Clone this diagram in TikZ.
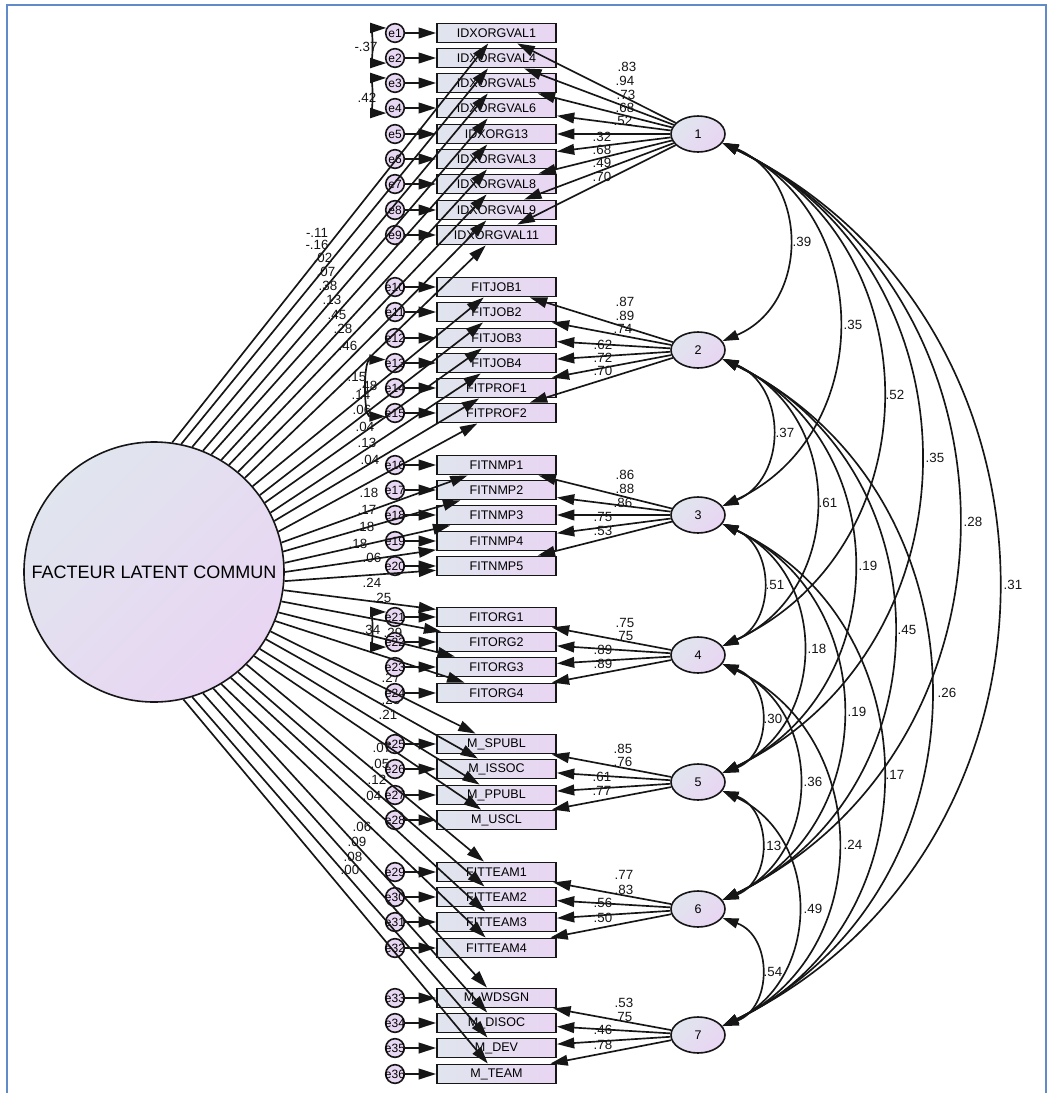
\documentclass[tikz,border=0pt]{standalone}
\usepackage{fontspec}
\setmainfont{Liberation Sans}
\usetikzlibrary{arrows.meta,shapes.geometric}
\definecolor{gA}{RGB}{224,229,238}
\definecolor{gB}{RGB}{233,213,243}
\definecolor{frameblue}{RGB}{96,138,200}
\definecolor{ink}{RGB}{22,22,22}
\begin{document}
\begin{tikzpicture}[x=0.75pt,y=-0.75pt,
  obs/.style={draw=ink, line width=1.4pt, left color=gA, right color=gB, minimum width=89.25pt, minimum height=14.25pt, inner sep=0pt, font=\fontsize{9.4}{9.4}\selectfont},
  err/.style={circle, draw=ink, line width=1.2pt, fill=gB!85!gA, minimum size=14pt, inner sep=0pt, font=\fontsize{9}{9}\selectfont},
  lat/.style={ellipse, draw=ink, line width=1.2pt, top color=gA, bottom color=gB, shading angle=45, minimum width=40.5pt, minimum height=27pt, inner sep=0pt, font=\fontsize{9.4}{9.4}\selectfont},
  big/.style={circle, draw=ink, line width=1.2pt, top color=gA, bottom color=gB, shading angle=45, minimum size=195pt, inner sep=0pt, font=\fontsize{13.5}{13.5}\selectfont},
  pth/.style={draw=ink, line width=1.25pt, -{Triangle[length=13pt,width=8pt]}},
  cov/.style={draw=ink, line width=1.25pt, {Triangle[length=12pt,width=7.5pt]}-{Triangle[length=12pt,width=7.5pt]}},
  lbl/.style={inner sep=0pt, font=\fontsize{10}{10}\selectfont, text=ink},
]
\useasboundingbox (0,0) rectangle (1051,1093);
\fill[white] (0,0) rectangle (1051,1093);
\draw[frameblue, line width=1.6pt] (7,1100) -- (7,5) -- (1046,5) -- (1046,1100);

% labels partly hidden behind e23 / e24
\node[lbl] at (391,678) {.27};
\node[lbl] at (391,700) {.23};

% observed variables and error terms
\foreach \n/\y/\nm in {1/33/IDXORGVAL1, 2/58/IDXORGVAL4, 3/83/IDXORGVAL5, 4/108/IDXORGVAL6, 5/134/IDXORG13, 6/159/IDXORGVAL3, 7/184/IDXORGVAL8, 8/210/IDXORGVAL9, 9/235/IDXORGVAL11, 10/287/FITJOB1, 11/312/FITJOB2, 12/338/FITJOB3, 13/363/FITJOB4, 14/388/FITPROF1, 15/413/FITPROF2, 16/465/FITNMP1, 17/490/FITNMP2, 18/515/FITNMP3, 19/541/FITNMP4, 20/566/FITNMP5, 21/617/FITORG1, 22/642/FITORG2, 23/667/FITORG3, 24/693/FITORG4, 25/744/M\_SPUBL, 26/769/M\_ISSOC, 27/795/M\_PPUBL, 28/820/M\_USCL, 29/872/FITTEAM1, 30/897/FITTEAM2, 31/922/FITTEAM3, 32/948/FITTEAM4, 33/998/M\_WDSGN, 34/1023/M\_DISOC, 35/1048/M\_DEV, 36/1074/M\_TEAM}{
  \node[obs] (b\n) at (496.5,\y) {\nm};
  \node[err] (e\n) at (395,\y) {\makebox[0pt]{e\n}};
}

% latent factors
\foreach \k/\y in {1/134,2/350,3/515,4/655,5/782,6/909,7/1035}{
  \node[lat] (f\k) at (698,\y) {\k};
}
\node[big] (F) at (154,572) {FACTEUR LATENT COMMUN};

% error -> indicator
\foreach \n in {1,...,36}{ \draw[pth] (e\n) -- (b\n); }

% factor loadings
\foreach \n/\k in {1/1,2/1,3/1,4/1,5/1,6/1,7/1,8/1,9/1,10/2,11/2,12/2,13/2,14/2,15/2,16/3,17/3,18/3,19/3,20/3,21/4,22/4,23/4,24/4,25/5,26/5,27/5,28/5,29/6,30/6,31/6,32/6,33/7,34/7,35/7,36/7}{
  \draw[pth] (f\k) -- (b\n);
}

% common latent factor paths
\foreach \n in {1,...,36}{
  \pgfmathsetmacro\myth{82.7-4.58*(\n-1)}
  \draw[pth] (F.\myth) -- (b\n);
}

% error covariances
\draw[cov] (e1.150) to[out=180,in=180,looseness=0.95] (e2.210);
\draw[cov] (e3.150) to[out=180,in=180,looseness=0.95] (e4.210);
\draw[cov] (e13.160) to[out=180,in=180,looseness=1.0] (e15.200);
\draw[cov] (e21.150) to[out=180,in=180,looseness=0.95] (e22.210);
\node[lbl] at (366,47) {-.37};
\node[lbl] at (367,98) {.42};

% factor covariances
\foreach \i/\j/\ya/\yb/\xb/\lab/\lx in {1/2/134/350/788/.39/802, 1/3/134/515/838/.35/853, 1/4/134/655/882/.52/895, 1/5/134/782/920/.35/935, 1/6/134/909/958/.28/973, 1/7/134/1035/998/.31/1013, 2/3/350/515/771/.37/785, 2/4/350/655/815/.61/828, 2/5/350/782/853/.19/868, 2/6/350/909/893/.45/907, 2/7/350/1035/930/.26/947, 3/4/515/655/762/.51/775, 3/5/515/782/802/.18/817, 3/6/515/909/842/.19/857, 3/7/515/1035/882/.17/895, 4/5/655/782/760/.30/773, 4/6/655/909/798/.36/813, 4/7/655/1035/837/.24/853, 5/6/782/909/760/.13/772, 5/7/782/1035/797/.49/813, 6/7/909/1035/760/.54/773}{
  \pgfmathsetmacro\myq{2*(\xb-722)/(\yb-\ya-17.2)}
  \pgfmathsetmacro\myal{2*atan(\myq)}
  \pgfmathsetmacro\mylo{0.6667*\myq/(0.3915*sin(\myal))}
  \pgfmathsetmacro\myly{(\ya+\yb)/2}
  \draw[cov] (f\i.-20) to[bend left=\myal, looseness=\mylo] (f\j.20);
  \node[lbl] at (\lx,\myly) {\lab};
}

% loading labels
\foreach \x/\y/\lab in {627/67/.83, 625/81/.94, 626/95/.73, 625/108/.68, 623/121/.52, 602/137/.32, 602/150/.68, 602/163/.49, 602/177/.70,
  625/302/.87, 625/316/.89, 623/329/.74, 603/345/.62, 603/358/.72, 603/371/.70,
  625/475/.86, 625/489/.88, 623/503/.86, 603/517/.75, 603/531/.53,
  625/623/.75, 624/636/.75, 603/650/.89, 603/664/.89,
  623/749/.85, 623/762/.76, 602/777/.61, 602/791/.77,
  624/875/.77, 624/890/.83, 603/903/.56, 603/918/.50,
  624/1003/.53, 623/1017/.75, 603/1030/.46, 603/1045/.78}{
  \node[lbl] at (\x,\y) {\lab};
}

% common factor labels
\foreach \x/\y/\lab in {317/233/-.11, 317/245/-.16, 323/258/.02, 326/272/.07, 328/286/.38, 332/300/.13, 337/315/.45, 343/329/.28, 348/346/.46,
  357/377/.15, 368/386/.48, 361/395/.14, 362/410/.06, 365/427/.04, 367/443/.13, 370/460/.04,
  369/493/.18, 367/510/.17, 365/527/.18, 358/544/.18, 372/558/.06,
  372/583/.24, 382/598/.25, 371/630/.34, 393/633/.29, 388/715/.21,
  382/748/.07, 380/764/.05, 377/780/.12, 372/796/.04,
  362/827/.06, 357/842/.09, 353/857/.08, 350/870/.00}{
  \node[lbl] at (\x,\y) {\lab};
}
\end{tikzpicture}
\end{document}
